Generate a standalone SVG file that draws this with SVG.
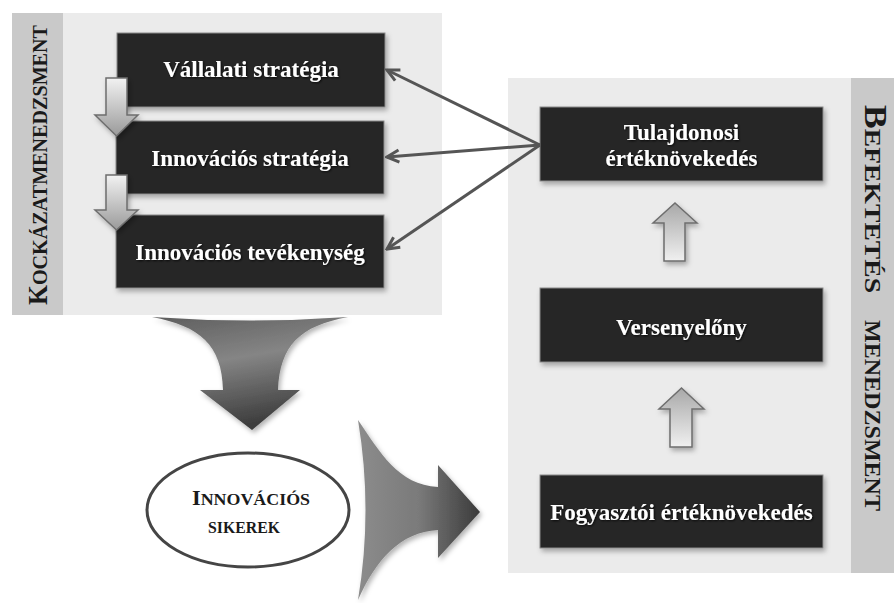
<svg xmlns="http://www.w3.org/2000/svg" width="894" height="603" viewBox="0 0 894 603">
<defs>
<style>
.panel{fill:#ebebeb}
.strip{fill:#c9c9c9}
.box{fill:#262626;stroke:#8a8a8a;stroke-width:1}
.bt{font-family:"Liberation Serif","Times New Roman",serif;font-weight:bold;font-size:23px;fill:#ffffff;text-anchor:middle}
.vt{font-family:"Liberation Serif","Times New Roman",serif;font-weight:bold;fill:#1a1a1a}
.conn{stroke:#555555;stroke-width:3;fill:none}
.small{stroke:#6e6e6e;stroke-width:1.5}
</style>
<linearGradient id="gDown" x1="0" y1="0" x2="0" y2="1">
<stop offset="0" stop-color="#f2f2f2"/>
<stop offset="1" stop-color="#9a9a9a"/>
</linearGradient>
<linearGradient id="gUp" x1="0" y1="1" x2="0" y2="0">
<stop offset="0" stop-color="#f0f0f0"/>
<stop offset="1" stop-color="#a8a8a8"/>
</linearGradient>
<linearGradient id="gBigDown" x1="0" y1="0" x2="0.3" y2="1">
<stop offset="0" stop-color="#5e5e5e"/>
<stop offset="0.45" stop-color="#858585"/>
<stop offset="1" stop-color="#3e3e3e"/>
</linearGradient>
<linearGradient id="gBigRight" x1="0" y1="0" x2="1" y2="0">
<stop offset="0" stop-color="#8c8c8c"/>
<stop offset="0.5" stop-color="#7a7a7a"/>
<stop offset="1" stop-color="#3a3a3a"/>
</linearGradient>
<filter id="sh" x="-20%" y="-20%" width="140%" height="140%">
<feDropShadow dx="2" dy="3" stdDeviation="2.5" flood-color="#000" flood-opacity="0.3"/>
</filter>
<filter id="tsh" x="-10%" y="-30%" width="120%" height="160%">
<feDropShadow dx="1" dy="1" stdDeviation="0.8" flood-color="#000" flood-opacity="0.8"/>
</filter>
<marker id="ah" viewBox="-14 -8 16 16" refX="0" refY="0" markerWidth="16" markerHeight="16" markerUnits="userSpaceOnUse" orient="auto">
<path d="M-12,-6 L0,0 L-12,6" fill="none" stroke="#555555" stroke-width="3" stroke-linejoin="miter"/>
</marker>
</defs>
<rect width="894" height="603" fill="#ffffff"/>

<g id="panel-left">
<rect class="panel" x="12" y="13" width="430" height="302"/>
<rect class="strip" x="12" y="13" width="51" height="302"/>
<text class="vt" transform="translate(47,305) rotate(-90)" textLength="280" lengthAdjust="spacingAndGlyphs"><tspan font-size="28">K</tspan><tspan font-size="22">OCKÁZATMENEDZSMENT</tspan></text>
</g>

<g id="panel-right">
<rect class="panel" x="508" y="78" width="343" height="495"/>
<rect class="strip" x="851" y="78" width="43" height="495"/>
<text class="vt" transform="translate(865,105) rotate(90)" textLength="188" lengthAdjust="spacingAndGlyphs"><tspan font-size="31">B</tspan><tspan font-size="24">EFEKTETÉS</tspan></text>
<text class="vt" font-size="24" transform="translate(865,320) rotate(90)" textLength="191" lengthAdjust="spacingAndGlyphs">MENEDZSMENT</text>
</g>

<g id="node-vallalati">
<rect class="box" x="117" y="33" width="268" height="74" filter="url(#sh)"/>
<text class="bt" x="251" y="77" filter="url(#tsh)">Vállalati stratégia</text>
</g>
<g id="node-innov-strat">
<rect class="box" x="116" y="121" width="268" height="73" filter="url(#sh)"/>
<text class="bt" x="250" y="166" filter="url(#tsh)">Innovációs stratégia</text>
</g>
<g id="node-innov-tev">
<rect class="box" x="116" y="215" width="268" height="73" filter="url(#sh)"/>
<text class="bt" x="250" y="260" filter="url(#tsh)">Innovációs tevékenység</text>
</g>

<g id="node-tulajdonosi">
<rect class="box" x="540" y="107" width="283" height="74" filter="url(#sh)"/>
<text class="bt" x="681.5" y="140" filter="url(#tsh)">Tulajdonosi</text>
<text class="bt" x="681.5" y="166" filter="url(#tsh)">értéknövekedés</text>
</g>
<g id="node-verseny">
<rect class="box" x="540" y="288" width="283" height="74" filter="url(#sh)"/>
<text class="bt" x="681.5" y="335" filter="url(#tsh)">Versenyelőny</text>
</g>
<g id="node-fogyasztoi">
<rect class="box" x="540" y="475" width="283" height="73" filter="url(#sh)"/>
<text class="bt" x="681.5" y="520" filter="url(#tsh)">Fogyasztói értéknövekedés</text>
</g>

<g id="node-sikerek">
<ellipse cx="248" cy="510" rx="101" ry="57" fill="#ffffff" stroke="#454545" stroke-width="3"/>
<text class="vt" x="251" y="505" text-anchor="middle" textLength="118" lengthAdjust="spacingAndGlyphs"><tspan font-size="20">I</tspan><tspan font-size="16">NNOVÁCIÓS</tspan></text>
<text class="vt" x="244" y="533" font-size="16.5" text-anchor="middle" textLength="72" lengthAdjust="spacingAndGlyphs">SIKEREK</text>
</g>

<g id="connectors">
<line class="conn" x1="540" y1="145" x2="387" y2="70" marker-end="url(#ah)"/>
<line class="conn" x1="540" y1="145" x2="387" y2="157" marker-end="url(#ah)"/>
<line class="conn" x1="540" y1="145" x2="387" y2="249" marker-end="url(#ah)"/>
<path class="small" fill="url(#gDown)" filter="url(#sh)" d="M106,78 L127,78 L127,115 L138,115 L116.5,136 L95,115 L106,115 Z"/>
<path class="small" fill="url(#gDown)" filter="url(#sh)" d="M106,175 L127,175 L127,210 L138,210 L116.5,230 L95,210 L106,210 Z"/>
<path class="small" fill="url(#gUp)" filter="url(#sh)" d="M675,203 L697,223 L685,223 L685,261 L664,261 L664,223 L653,223 Z"/>
<path class="small" fill="url(#gUp)" filter="url(#sh)" d="M681.5,388 L704,409 L692,409 L692,447 L670,447 L670,409 L659,409 Z"/>
<path fill="url(#gBigDown)" filter="url(#sh)" d="M152,317 Q250,324 348,317 C300,326 280,345 278,390 L300,390 L252,430 L200,390 L223,390 C222,345 200,326 152,317 Z"/>
<path fill="url(#gBigRight)" filter="url(#sh)" d="M358,420 C380,452 398,485 438,487 L438,465 L480,512 L438,558 L438,530 C400,532 376,560 358,600 C368,540 368,480 358,420 Z"/>
</g>
</svg>
